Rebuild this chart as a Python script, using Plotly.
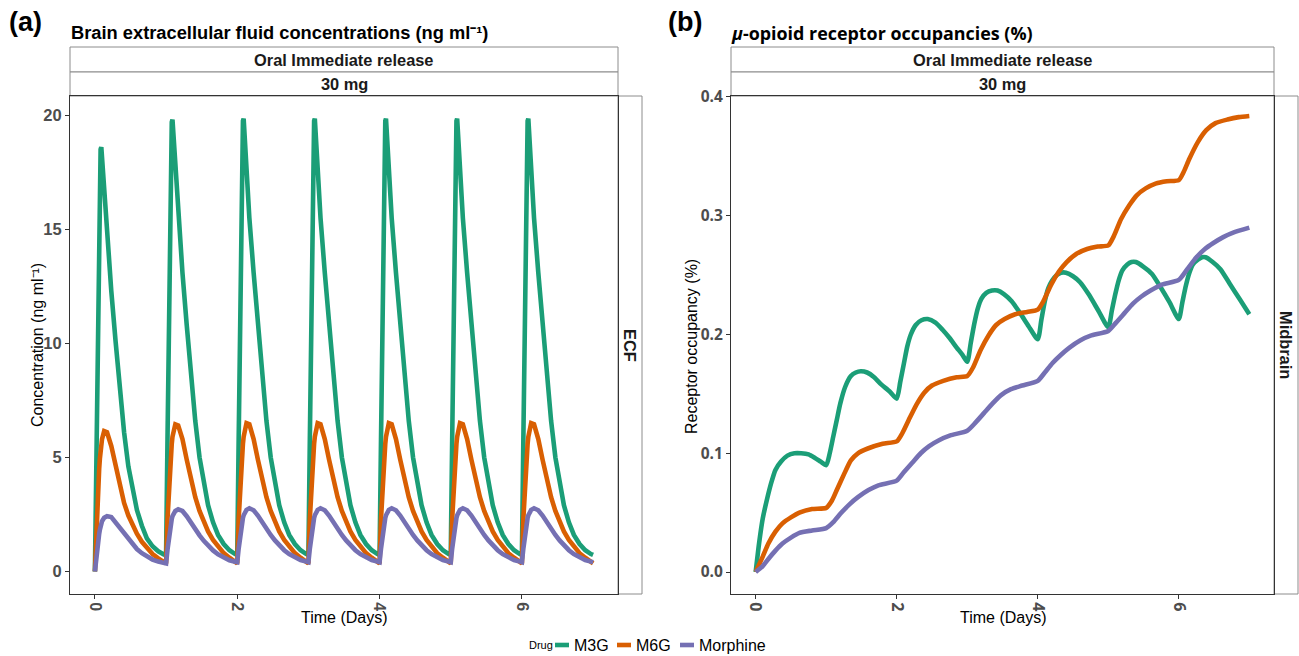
import plotly.graph_objects as go

# ---------------- data ----------------
SERIES = ["M3G", "M6G", "Morphine"]
COLORS = {"M3G": "#1B9E77", "M6G": "#D95F02", "Morphine": "#7570B3"}

# Panel (a): brain ECF concentrations (ng/ml), time in days
ECF_TIME = [
    0.00, 0.02, 0.04, 0.06, 0.07, 0.08, 0.09, 0.10, 0.13, 0.17, 0.23, 0.29, 0.35, 0.41, 0.47, 0.53, 0.59, 0.66, 0.73, 0.81, 0.89, 0.97,
    1.00, 1.02, 1.04, 1.06, 1.07, 1.08, 1.09, 1.10, 1.13, 1.17, 1.23, 1.29, 1.35, 1.41, 1.47, 1.53, 1.59, 1.66, 1.73, 1.81, 1.89, 1.97,
    2.00, 2.02, 2.04, 2.06, 2.07, 2.08, 2.09, 2.10, 2.13, 2.17, 2.23, 2.29, 2.35, 2.41, 2.47, 2.53, 2.59, 2.66, 2.73, 2.81, 2.89, 2.97,
    3.00, 3.02, 3.04, 3.06, 3.07, 3.08, 3.09, 3.10, 3.13, 3.17, 3.23, 3.29, 3.35, 3.41, 3.47, 3.53, 3.59, 3.66, 3.73, 3.81, 3.89, 3.97,
    4.00, 4.02, 4.04, 4.06, 4.07, 4.08, 4.09, 4.10, 4.13, 4.17, 4.23, 4.29, 4.35, 4.41, 4.47, 4.53, 4.59, 4.66, 4.73, 4.81, 4.89, 4.97,
    5.00, 5.02, 5.04, 5.06, 5.07, 5.08, 5.09, 5.10, 5.13, 5.17, 5.23, 5.29, 5.35, 5.41, 5.47, 5.53, 5.59, 5.66, 5.73, 5.81, 5.89, 5.97,
    6.00, 6.02, 6.04, 6.06, 6.07, 6.08, 6.09, 6.10, 6.13, 6.17, 6.23, 6.29, 6.35, 6.41, 6.47, 6.53, 6.59, 6.66, 6.73, 6.81, 6.89, 6.97,
    7.00,
]
ECF_M3G = [
    0.00, 5.0, 10.5, 15.5, 17.6, 18.5, 18.6, 18.1, 16.5, 14.5, 12.3, 10.1, 8.0, 6.1, 4.6, 3.5, 2.7, 2.0, 1.45, 1.1, 0.88, 0.74,
    0.72, 5.8, 11.5, 16.8, 18.9, 19.7, 19.8, 19.3, 17.6, 15.5, 13.1, 10.8, 8.6, 6.6, 5.0, 3.8, 2.9, 2.15, 1.6, 1.2, 0.93, 0.76,
    0.72, 5.8, 11.5, 16.8, 18.9, 19.75, 19.85, 19.3, 17.6, 15.5, 13.1, 10.8, 8.6, 6.6, 5.0, 3.8, 2.9, 2.15, 1.6, 1.2, 0.93, 0.76,
    0.72, 5.8, 11.5, 16.8, 18.9, 19.75, 19.85, 19.3, 17.6, 15.5, 13.1, 10.8, 8.6, 6.6, 5.0, 3.8, 2.9, 2.15, 1.6, 1.2, 0.93, 0.76,
    0.72, 5.8, 11.5, 16.8, 18.9, 19.75, 19.85, 19.3, 17.6, 15.5, 13.1, 10.8, 8.6, 6.6, 5.0, 3.8, 2.9, 2.15, 1.6, 1.2, 0.93, 0.76,
    0.72, 5.8, 11.5, 16.8, 18.9, 19.75, 19.85, 19.3, 17.6, 15.5, 13.1, 10.8, 8.6, 6.6, 5.0, 3.8, 2.9, 2.15, 1.6, 1.2, 0.93, 0.76,
    0.72, 5.8, 11.5, 16.8, 18.9, 19.75, 19.85, 19.3, 17.6, 15.5, 13.1, 10.8, 8.6, 6.6, 5.0, 3.8, 2.9, 2.15, 1.6, 1.2, 0.93, 0.76,
    0.72,
]
ECF_M6G = [
    0.00, 2.0, 3.4, 4.5, 4.95, 5.3, 5.55, 5.8, 6.15, 6.1, 5.5, 4.6, 3.7, 3.0, 2.45, 2.0, 1.65, 1.3, 1.02, 0.76, 0.57, 0.40,
    0.35, 2.3, 3.7, 4.8, 5.25, 5.6, 5.9, 6.1, 6.45, 6.4, 5.8, 4.9, 4.0, 3.25, 2.65, 2.15, 1.75, 1.38, 1.08, 0.80, 0.60, 0.42,
    0.35, 2.3, 3.7, 4.8, 5.25, 5.6, 5.9, 6.1, 6.5, 6.45, 5.8, 4.9, 4.0, 3.25, 2.65, 2.15, 1.75, 1.38, 1.08, 0.80, 0.60, 0.42,
    0.35, 2.3, 3.7, 4.8, 5.25, 5.6, 5.9, 6.1, 6.5, 6.45, 5.8, 4.9, 4.0, 3.25, 2.65, 2.15, 1.75, 1.38, 1.08, 0.80, 0.60, 0.42,
    0.35, 2.3, 3.7, 4.8, 5.25, 5.6, 5.9, 6.1, 6.5, 6.45, 5.8, 4.9, 4.0, 3.25, 2.65, 2.15, 1.75, 1.38, 1.08, 0.80, 0.60, 0.42,
    0.35, 2.3, 3.7, 4.8, 5.25, 5.6, 5.9, 6.1, 6.5, 6.45, 5.8, 4.9, 4.0, 3.25, 2.65, 2.15, 1.75, 1.38, 1.08, 0.80, 0.60, 0.42,
    0.35, 2.3, 3.7, 4.8, 5.25, 5.6, 5.9, 6.1, 6.5, 6.45, 5.8, 4.9, 4.0, 3.25, 2.65, 2.15, 1.75, 1.38, 1.08, 0.80, 0.60, 0.42,
    0.35,
]
ECF_MORPHINE = [
    0.00, 0.7, 1.25, 1.65, 1.83, 2.0, 2.1, 2.2, 2.35, 2.42, 2.38, 2.15, 1.88, 1.62, 1.40, 1.18, 0.98, 0.80, 0.65, 0.52, 0.43, 0.37,
    0.35, 0.95, 1.5, 1.95, 2.13, 2.3, 2.42, 2.5, 2.65, 2.72, 2.65, 2.42, 2.12, 1.84, 1.58, 1.34, 1.12, 0.92, 0.75, 0.60, 0.49, 0.42,
    0.40, 1.0, 1.55, 2.0, 2.18, 2.35, 2.46, 2.55, 2.7, 2.77, 2.68, 2.45, 2.15, 1.86, 1.60, 1.36, 1.14, 0.93, 0.76, 0.61, 0.50, 0.43,
    0.40, 1.0, 1.55, 2.0, 2.18, 2.35, 2.46, 2.55, 2.7, 2.77, 2.68, 2.45, 2.15, 1.86, 1.60, 1.36, 1.14, 0.93, 0.76, 0.61, 0.50, 0.43,
    0.40, 1.0, 1.55, 2.0, 2.18, 2.35, 2.46, 2.55, 2.7, 2.77, 2.68, 2.45, 2.15, 1.86, 1.60, 1.36, 1.14, 0.93, 0.76, 0.61, 0.50, 0.43,
    0.40, 1.0, 1.55, 2.0, 2.18, 2.35, 2.46, 2.55, 2.7, 2.77, 2.68, 2.45, 2.15, 1.86, 1.60, 1.36, 1.14, 0.93, 0.76, 0.61, 0.50, 0.43,
    0.40, 1.0, 1.55, 2.0, 2.18, 2.35, 2.46, 2.55, 2.7, 2.77, 2.68, 2.45, 2.15, 1.86, 1.60, 1.36, 1.14, 0.93, 0.76, 0.61, 0.50, 0.43,
    0.40,
]

# Panel (b): mu-opioid receptor occupancy (fraction), time in days
RO_M3G_TIME = [
    0.00, 0.05, 0.10, 0.16, 0.22, 0.28, 0.36, 0.45, 0.55, 0.645, 0.75, 0.84, 0.92, 1.00,
    1.05, 1.10, 1.15, 1.20, 1.27, 1.35, 1.42, 1.49, 1.58, 1.68, 1.78, 1.90, 2.00,
    2.05, 2.10, 2.15, 2.20, 2.27, 2.35, 2.44, 2.55, 2.65, 2.75, 2.85, 2.93, 3.00,
    3.05, 3.10, 3.15, 3.20, 3.27, 3.35, 3.43, 3.52, 3.63, 3.75, 3.87, 4.00,
    4.05, 4.10, 4.15, 4.20, 4.27, 4.33, 4.40, 4.50, 4.60, 4.72, 4.86, 5.00,
    5.05, 5.10, 5.15, 5.20, 5.27, 5.33, 5.39, 5.50, 5.62, 5.74, 5.87, 6.00,
    6.05, 6.10, 6.15, 6.20, 6.27, 6.33, 6.38, 6.48, 6.59, 6.72, 6.86, 7.00,
]
RO_M3G = [
    0.000, 0.025, 0.045, 0.061, 0.075, 0.086, 0.093, 0.098, 0.100, 0.100, 0.099, 0.096, 0.093, 0.090,
    0.100, 0.114, 0.128, 0.142, 0.156, 0.165, 0.168, 0.169, 0.168, 0.164, 0.158, 0.152, 0.146,
    0.160, 0.175, 0.190, 0.200, 0.208, 0.212, 0.213, 0.210, 0.204, 0.197, 0.189, 0.183, 0.177,
    0.193, 0.209, 0.222, 0.230, 0.235, 0.237, 0.237, 0.234, 0.228, 0.218, 0.207, 0.196,
    0.212, 0.228, 0.239, 0.245, 0.250, 0.252, 0.252, 0.249, 0.244, 0.234, 0.220, 0.206,
    0.220, 0.234, 0.246, 0.254, 0.259, 0.261, 0.261, 0.257, 0.251, 0.240, 0.227, 0.213,
    0.227, 0.241, 0.252, 0.259, 0.263, 0.265, 0.265, 0.261, 0.255, 0.243, 0.230, 0.217,
]
RO_M6G_TIME = [
    0.00, 0.10, 0.18, 0.28, 0.38, 0.50, 0.62, 0.80, 1.00,
    1.08, 1.15, 1.25, 1.35, 1.45, 1.59, 1.80, 2.00,
    2.08, 2.17, 2.28, 2.39, 2.50, 2.66, 2.85, 3.00,
    3.08, 3.19, 3.30, 3.41, 3.53, 3.68, 3.85, 4.00,
    4.08, 4.19, 4.30, 4.41, 4.55, 4.70, 4.85, 5.00,
    5.08, 5.18, 5.30, 5.40, 5.53, 5.67, 5.83, 6.00,
    6.07, 6.15, 6.27, 6.39, 6.52, 6.69, 6.85, 7.00,
]
RO_M6G = [
    0.000, 0.013, 0.024, 0.034, 0.041, 0.046, 0.050, 0.053, 0.054,
    0.060, 0.069, 0.082, 0.094, 0.100, 0.104, 0.108, 0.110,
    0.117, 0.128, 0.141, 0.151, 0.157, 0.161, 0.164, 0.165,
    0.172, 0.187, 0.199, 0.208, 0.213, 0.217, 0.219, 0.221,
    0.228, 0.242, 0.253, 0.261, 0.268, 0.272, 0.274, 0.275,
    0.283, 0.297, 0.309, 0.317, 0.323, 0.327, 0.329, 0.330,
    0.337, 0.348, 0.362, 0.372, 0.378, 0.381, 0.383, 0.384,
]
RO_MORPHINE_TIME = [
    0.00, 0.10, 0.18, 0.28, 0.38, 0.50, 0.62, 0.80, 1.00,
    1.10, 1.20, 1.33, 1.45, 1.60, 1.74, 2.00,
    2.10, 2.22, 2.34, 2.46, 2.60, 2.76, 3.00,
    3.12, 3.24, 3.36, 3.48, 3.62, 3.78, 4.00,
    4.10, 4.21, 4.33, 4.45, 4.60, 4.75, 5.00,
    5.11, 5.23, 5.35, 5.47, 5.60, 5.76, 6.00,
    6.12, 6.25, 6.37, 6.49, 6.63, 6.78, 7.00,
]
RO_MORPHINE = [
    0.000, 0.005, 0.011, 0.018, 0.024, 0.029, 0.033, 0.035, 0.037,
    0.042, 0.049, 0.057, 0.063, 0.069, 0.073, 0.077,
    0.084, 0.092, 0.100, 0.106, 0.111, 0.115, 0.119,
    0.126, 0.134, 0.142, 0.149, 0.154, 0.157, 0.161,
    0.168, 0.176, 0.183, 0.189, 0.195, 0.199, 0.203,
    0.210, 0.218, 0.226, 0.232, 0.237, 0.242, 0.246,
    0.255, 0.265, 0.272, 0.277, 0.282, 0.286, 0.290,
]

X_TICKS = [0, 2, 4, 6]
ECF_Y_TICKS = [0, 5, 10, 15, 20]
RO_Y_TICKS = [0.0, 0.1, 0.2, 0.3, 0.4]
RO_Y_LABELS = ["0.0", "0.1", "0.2", "0.3", "0.4"]

# ---------------- layout helpers ----------------
W, H = 1299, 656
def fx(x): return x / W
def fy(y): return 1 - y / H

SANS = "Liberation Sans, Arial, sans-serif"
OPEN = "Open Sans, sans-serif"
LINE_W = 4.6

fig = go.Figure()

ecf = {"M3G": ECF_M3G, "M6G": ECF_M6G, "Morphine": ECF_MORPHINE}
for s in SERIES:
    fig.add_trace(go.Scatter(x=ECF_TIME, y=ecf[s], mode="lines", name=s,
                             line=dict(color=COLORS[s], width=LINE_W),
                             xaxis="x", yaxis="y", showlegend=False))

ro = {"M3G": (RO_M3G_TIME, RO_M3G), "M6G": (RO_M6G_TIME, RO_M6G),
      "Morphine": (RO_MORPHINE_TIME, RO_MORPHINE)}
for s in SERIES:
    t, v = ro[s]
    fig.add_trace(go.Scatter(x=t, y=v, mode="lines", name=s,
                             line=dict(color=COLORS[s], width=LINE_W, shape="spline", smoothing=0.6),
                             xaxis="x2", yaxis="y2", showlegend=False))

L_X0, L_X1 = 70, 618
R_X0, R_X1 = 731, 1274
P_Y0, P_Y1 = 96, 594

axis_common = dict(showgrid=False, zeroline=False, showline=True, mirror=True,
                   linecolor="#333333", linewidth=1, ticks="outside", ticklen=4,
                   tickcolor="#333333", tickwidth=1, automargin=False)

fig.update_layout(
    width=W, height=H, margin=dict(l=0, r=0, t=0, b=0, pad=0, autoexpand=False),
    paper_bgcolor="white", plot_bgcolor="white", showlegend=False,
    xaxis=dict(domain=[fx(L_X0), fx(L_X1)], range=[-0.35, 7.35], tickvals=X_TICKS,
               tickangle=90, tickfont=dict(family=SANS, size=16, color="#4D4D4D", weight="bold"),
               anchor="y", **axis_common),
    yaxis=dict(domain=[fy(P_Y1), fy(P_Y0)], range=[-0.99, 20.84], tickvals=ECF_Y_TICKS,
               tickfont=dict(family=SANS, size=16.5, color="#4D4D4D", weight="bold"),
               anchor="x", **axis_common),
    xaxis2=dict(domain=[fx(R_X0), fx(R_X1)], range=[-0.35, 7.35], tickvals=X_TICKS,
                tickangle=90, tickfont=dict(family=OPEN, size=16, color="#4D4D4D", weight="bold"),
                anchor="y2", **axis_common),
    yaxis2=dict(domain=[fy(P_Y1), fy(P_Y0)], range=[-0.0185, 0.4008], tickvals=RO_Y_TICKS,
                ticktext=RO_Y_LABELS,
                tickfont=dict(family=OPEN, size=15.5, color="#4D4D4D", weight="bold"),
                anchor="x2", **axis_common),
)

shapes = []
annotations = []
STRIP_BORDER = "#8C8C8C"

def strip_box(x0, x1, y0, y1):
    shapes.append(dict(type="rect", xref="paper", yref="paper",
                       x0=fx(x0), x1=fx(x1), y0=fy(y1), y1=fy(y0),
                       line=dict(color=STRIP_BORDER, width=1), fillcolor="white", layer="below"))

def text(x, y, s, size, family=SANS, bold=False, angle=0, xanchor="center", color="#1A1A1A"):
    annotations.append(dict(xref="paper", yref="paper", x=fx(x), y=fy(y), text=s,
                            showarrow=False, textangle=angle, xanchor=xanchor, yanchor="middle",
                            font=dict(family=family, size=size, color=color,
                                      weight="bold" if bold else "normal")))

for (x0, x1, lab) in [(L_X0, L_X1, "ECF"), (R_X0, R_X1, "Midbrain")]:
    strip_box(x0, x1, 47, 72)
    strip_box(x0, x1, 72, P_Y0)
    strip_box(x1, x1 + 24, P_Y0, P_Y1)
    text((x0 + x1) / 2, 60, "Oral Immediate release", 16.4, bold=True)
    text((x0 + x1) / 2, 84, "30 mg", 16.4, bold=True)
    text(x1 + 12, (P_Y0 + P_Y1) / 2, lab, 16.4, bold=True, angle=90)

# titles and panel letters
text(7, 22, "(a)", 27, bold=True, xanchor="left", color="black")
text(666, 22, "(b)", 27, bold=True, xanchor="left", color="black")
text(69, 33, "Brain extracellular fluid concentrations (ng ml⁻¹)", 18.3, bold=True,
     xanchor="left", color="black")
text(729, 33, "<i>μ</i>-opioid receptor occupancies (%)", 17.9, family=OPEN, bold=True,
     xanchor="left", color="black")

# axis titles
text(344, 617, "Time (Days)", 16, color="black")
text(1003, 617, "Time (Days)", 16, color="black")
text(37, 345, "Concentration (ng ml⁻¹)", 16, angle=-90, color="black")
text(691, 347, "Receptor occupancy (%)", 16, angle=-90, color="black")

# legend (bottom)
text(527, 645, "Drug", 11, xanchor="left", color="black")
leg_x = 555
for s, w in [("M3G", 62), ("M6G", 63), ("Morphine", 80)]:
    shapes.append(dict(type="line", xref="paper", yref="paper",
                       x0=fx(leg_x), x1=fx(leg_x + 14), y0=fy(645), y1=fy(645),
                       line=dict(color=COLORS[s], width=LINE_W)))
    text(leg_x + 17, 645, s, 16, xanchor="left", color="black")
    leg_x += w

fig.update_layout(shapes=shapes, annotations=annotations)
fig.write_html("out.html")
